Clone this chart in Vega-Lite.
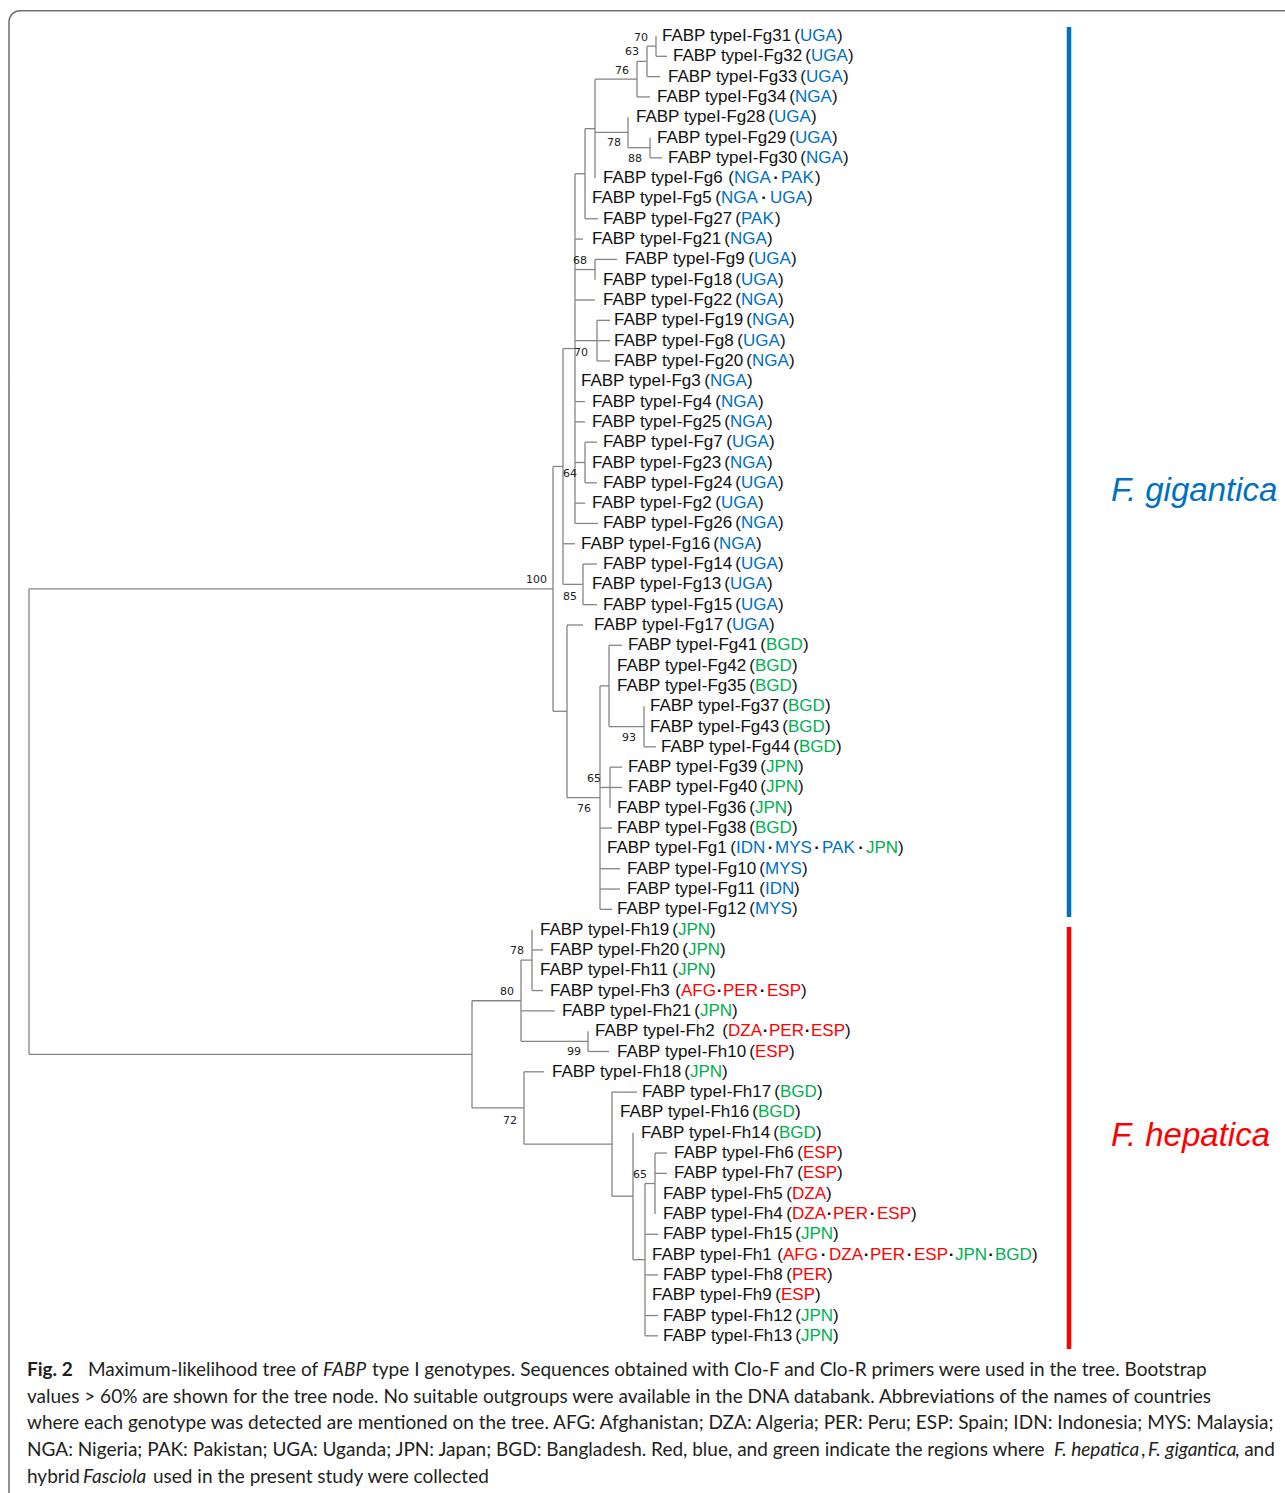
{
  "$schema": "https://vega.github.io/schema/vega-lite/v6.json",
  "width": 1285,
  "height": 1493,
  "autosize": {"type": "fit", "contains": "padding"},
  "padding": 0,
  "background": "white",
  "config": {"view": {"stroke": null}},
  "datasets": {
    "frame": [{"x": -20, "x2": 1300, "y": -1.246, "y2": 72.6}],
    "edges": [
      {"x":0,"x2":0,"y":27.22,"y2":50.14},{"x":0,"x2":524,"y":27.22,"y2":27.22},{"x":0,"x2":443,"y":50.14,"y2":50.14},
      {"x":524,"x2":524,"y":21.195,"y2":33.25},{"x":524,"x2":534,"y":21.195,"y2":21.195},{"x":524,"x2":538,"y":33.25,"y2":33.25},
      {"x":534,"x2":534,"y":15.39,"y2":27},{"x":534,"x2":546,"y":15.39,"y2":15.39},{"x":534,"x2":546,"y":25,"y2":25},{"x":534,"x2":554,"y":27,"y2":27},
      {"x":546,"x2":546,"y":6.78,"y2":24},{"x":546,"x2":556,"y":6.78,"y2":6.78},{"x":546,"x2":554,"y":10,"y2":10},{"x":546,"x2":566,"y":11.5,"y2":11.5},{"x":546,"x2":566,"y":13,"y2":13},{"x":546,"x2":568,"y":15,"y2":15},{"x":546,"x2":556,"y":18,"y2":18},{"x":546,"x2":556,"y":19,"y2":19},{"x":546,"x2":556,"y":21,"y2":21},{"x":546,"x2":556,"y":23,"y2":23},{"x":546,"x2":569,"y":24,"y2":24},
      {"x":556,"x2":556,"y":4.5625,"y2":9},{"x":556,"x2":566,"y":4.5625,"y2":4.5625},{"x":556,"x2":569,"y":9,"y2":9},
      {"x":566,"x2":566,"y":2.125,"y2":7},{"x":566,"x2":608,"y":2.125,"y2":2.125},{"x":566,"x2":599,"y":4.75,"y2":4.75},
      {"x":608,"x2":608,"y":1.25,"y2":3},{"x":608,"x2":618,"y":1.25,"y2":1.25},{"x":608,"x2":621,"y":3,"y2":3},
      {"x":618,"x2":618,"y":0.5,"y2":2},{"x":618,"x2":627,"y":0.5,"y2":0.5},{"x":618,"x2":631,"y":2,"y2":2},
      {"x":627,"x2":627,"y":0,"y2":1},{"x":627,"x2":638,"y":1,"y2":1},
      {"x":599,"x2":599,"y":4,"y2":5.5},{"x":599,"x2":621,"y":5.5,"y2":5.5},
      {"x":621,"x2":621,"y":5,"y2":6},{"x":621,"x2":633,"y":6,"y2":6},
      {"x":566,"x2":566,"y":11,"y2":12},{"x":566,"x2":588,"y":11,"y2":11},
      {"x":568,"x2":568,"y":14,"y2":16},{"x":568,"x2":581,"y":14,"y2":14},{"x":568,"x2":581,"y":15,"y2":15},{"x":568,"x2":581,"y":16,"y2":16},
      {"x":556,"x2":556,"y":20,"y2":22},{"x":556,"x2":568,"y":20,"y2":20},{"x":556,"x2":568,"y":22,"y2":22},
      {"x":554,"x2":554,"y":26,"y2":28},{"x":554,"x2":568,"y":26,"y2":26},{"x":554,"x2":568,"y":28,"y2":28},
      {"x":538,"x2":538,"y":29,"y2":37.5},{"x":538,"x2":554,"y":29,"y2":29},{"x":538,"x2":571,"y":37.5,"y2":37.5},
      {"x":571,"x2":571,"y":32,"y2":43},{"x":571,"x2":580,"y":32,"y2":32},{"x":571,"x2":581,"y":37,"y2":37},{"x":571,"x2":583,"y":39,"y2":39},{"x":571,"x2":591,"y":41,"y2":41},{"x":571,"x2":591,"y":42,"y2":42},{"x":571,"x2":583,"y":43,"y2":43},
      {"x":580,"x2":580,"y":30,"y2":34},{"x":580,"x2":593,"y":30,"y2":30},{"x":580,"x2":615,"y":34,"y2":34},
      {"x":615,"x2":615,"y":33,"y2":35},{"x":615,"x2":627,"y":35,"y2":35},
      {"x":581,"x2":581,"y":36,"y2":38},{"x":581,"x2":593,"y":36,"y2":36},{"x":581,"x2":593,"y":37,"y2":37},
      {"x":443,"x2":443,"y":47.5,"y2":52.78},{"x":443,"x2":492,"y":47.5,"y2":47.5},{"x":443,"x2":495,"y":52.78,"y2":52.78},
      {"x":492,"x2":492,"y":45.5,"y2":49.5},{"x":492,"x2":503,"y":45.5,"y2":45.5},{"x":492,"x2":526,"y":48,"y2":48},{"x":492,"x2":559,"y":49.5,"y2":49.5},
      {"x":503,"x2":503,"y":44,"y2":47},{"x":503,"x2":514,"y":45,"y2":45},{"x":503,"x2":514,"y":47,"y2":47},
      {"x":559,"x2":559,"y":49,"y2":50},{"x":559,"x2":580,"y":50,"y2":50},
      {"x":495,"x2":495,"y":51,"y2":54.5625},{"x":495,"x2":515,"y":51,"y2":51},{"x":495,"x2":583,"y":54.5625,"y2":54.5625},
      {"x":583,"x2":583,"y":52,"y2":57.125},{"x":583,"x2":608,"y":52,"y2":52},{"x":583,"x2":604,"y":57.125,"y2":57.125},
      {"x":604,"x2":604,"y":54,"y2":60.25},{"x":604,"x2":616,"y":60.25,"y2":60.25},
      {"x":616,"x2":616,"y":56.5,"y2":64},{"x":616,"x2":626,"y":56.5,"y2":56.5},{"x":616,"x2":629,"y":59,"y2":59},{"x":616,"x2":629,"y":61,"y2":61},{"x":616,"x2":629,"y":63,"y2":63},{"x":616,"x2":629,"y":64,"y2":64},
      {"x":626,"x2":626,"y":55,"y2":58},{"x":626,"x2":638,"y":55,"y2":55},{"x":626,"x2":638,"y":56,"y2":56}
    ],
    "segs": [
      {"r":0,"x":633,"t":"FABP typeI-Fg31","k":"k"},{"r":0,"x":771,"t":"UGA","k":"b","o":1},{"r":0,"x":808,"t":")","k":"k"},
      {"r":1,"x":644,"t":"FABP typeI-Fg32","k":"k"},{"r":1,"x":782,"t":"UGA","k":"b","o":1},{"r":1,"x":819,"t":")","k":"k"},
      {"r":2,"x":639,"t":"FABP typeI-Fg33","k":"k"},{"r":2,"x":777,"t":"UGA","k":"b","o":1},{"r":2,"x":814,"t":")","k":"k"},
      {"r":3,"x":628,"t":"FABP typeI-Fg34","k":"k"},{"r":3,"x":766,"t":"NGA","k":"b","o":1},{"r":3,"x":803,"t":")","k":"k"},
      {"r":4,"x":607,"t":"FABP typeI-Fg28","k":"k"},{"r":4,"x":745,"t":"UGA","k":"b","o":1},{"r":4,"x":782,"t":")","k":"k"},
      {"r":5,"x":628,"t":"FABP typeI-Fg29","k":"k"},{"r":5,"x":766,"t":"UGA","k":"b","o":1},{"r":5,"x":803,"t":")","k":"k"},
      {"r":6,"x":639,"t":"FABP typeI-Fg30","k":"k"},{"r":6,"x":777,"t":"NGA","k":"b","o":1},{"r":6,"x":814,"t":")","k":"k"},
      {"r":7,"x":574,"t":"FABP typeI-Fg6","k":"k"},{"r":7,"x":705,"t":"NGA","k":"b","o":1},{"r":7,"x":752,"t":"PAK","k":"b"},{"r":7,"x":786,"t":")","k":"k"},
      {"r":8,"x":563,"t":"FABP typeI-Fg5","k":"k"},{"r":8,"x":692,"t":"NGA","k":"b","o":1},{"r":8,"x":741,"t":"UGA","k":"b"},{"r":8,"x":778,"t":")","k":"k"},
      {"r":9,"x":574,"t":"FABP typeI-Fg27","k":"k"},{"r":9,"x":712,"t":"PAK","k":"b","o":1},{"r":9,"x":746,"t":")","k":"k"},
      {"r":10,"x":563,"t":"FABP typeI-Fg21","k":"k"},{"r":10,"x":701,"t":"NGA","k":"b","o":1},{"r":10,"x":738,"t":")","k":"k"},
      {"r":11,"x":596,"t":"FABP typeI-Fg9","k":"k"},{"r":11,"x":725,"t":"UGA","k":"b","o":1},{"r":11,"x":762,"t":")","k":"k"},
      {"r":12,"x":574,"t":"FABP typeI-Fg18","k":"k"},{"r":12,"x":712,"t":"UGA","k":"b","o":1},{"r":12,"x":749,"t":")","k":"k"},
      {"r":13,"x":574,"t":"FABP typeI-Fg22","k":"k"},{"r":13,"x":712,"t":"NGA","k":"b","o":1},{"r":13,"x":749,"t":")","k":"k"},
      {"r":14,"x":585,"t":"FABP typeI-Fg19","k":"k"},{"r":14,"x":723,"t":"NGA","k":"b","o":1},{"r":14,"x":760,"t":")","k":"k"},
      {"r":15,"x":585,"t":"FABP typeI-Fg8","k":"k"},{"r":15,"x":714,"t":"UGA","k":"b","o":1},{"r":15,"x":751,"t":")","k":"k"},
      {"r":16,"x":585,"t":"FABP typeI-Fg20","k":"k"},{"r":16,"x":723,"t":"NGA","k":"b","o":1},{"r":16,"x":760,"t":")","k":"k"},
      {"r":17,"x":552,"t":"FABP typeI-Fg3","k":"k"},{"r":17,"x":681,"t":"NGA","k":"b","o":1},{"r":17,"x":718,"t":")","k":"k"},
      {"r":18,"x":563,"t":"FABP typeI-Fg4","k":"k"},{"r":18,"x":692,"t":"NGA","k":"b","o":1},{"r":18,"x":729,"t":")","k":"k"},
      {"r":19,"x":563,"t":"FABP typeI-Fg25","k":"k"},{"r":19,"x":701,"t":"NGA","k":"b","o":1},{"r":19,"x":738,"t":")","k":"k"},
      {"r":20,"x":574,"t":"FABP typeI-Fg7","k":"k"},{"r":20,"x":703,"t":"UGA","k":"b","o":1},{"r":20,"x":740,"t":")","k":"k"},
      {"r":21,"x":563,"t":"FABP typeI-Fg23","k":"k"},{"r":21,"x":701,"t":"NGA","k":"b","o":1},{"r":21,"x":738,"t":")","k":"k"},
      {"r":22,"x":574,"t":"FABP typeI-Fg24","k":"k"},{"r":22,"x":712,"t":"UGA","k":"b","o":1},{"r":22,"x":749,"t":")","k":"k"},
      {"r":23,"x":563,"t":"FABP typeI-Fg2","k":"k"},{"r":23,"x":692,"t":"UGA","k":"b","o":1},{"r":23,"x":729,"t":")","k":"k"},
      {"r":24,"x":574,"t":"FABP typeI-Fg26","k":"k"},{"r":24,"x":712,"t":"NGA","k":"b","o":1},{"r":24,"x":749,"t":")","k":"k"},
      {"r":25,"x":552,"t":"FABP typeI-Fg16","k":"k"},{"r":25,"x":690,"t":"NGA","k":"b","o":1},{"r":25,"x":727,"t":")","k":"k"},
      {"r":26,"x":574,"t":"FABP typeI-Fg14","k":"k"},{"r":26,"x":712,"t":"UGA","k":"b","o":1},{"r":26,"x":749,"t":")","k":"k"},
      {"r":27,"x":563,"t":"FABP typeI-Fg13","k":"k"},{"r":27,"x":701,"t":"UGA","k":"b","o":1},{"r":27,"x":738,"t":")","k":"k"},
      {"r":28,"x":574,"t":"FABP typeI-Fg15","k":"k"},{"r":28,"x":712,"t":"UGA","k":"b","o":1},{"r":28,"x":749,"t":")","k":"k"},
      {"r":29,"x":565,"t":"FABP typeI-Fg17","k":"k"},{"r":29,"x":703,"t":"UGA","k":"b","o":1},{"r":29,"x":740,"t":")","k":"k"},
      {"r":30,"x":599,"t":"FABP typeI-Fg41","k":"k"},{"r":30,"x":737,"t":"BGD","k":"g","o":1},{"r":30,"x":774,"t":")","k":"k"},
      {"r":31,"x":588,"t":"FABP typeI-Fg42","k":"k"},{"r":31,"x":726,"t":"BGD","k":"g","o":1},{"r":31,"x":763,"t":")","k":"k"},
      {"r":32,"x":588,"t":"FABP typeI-Fg35","k":"k"},{"r":32,"x":726,"t":"BGD","k":"g","o":1},{"r":32,"x":763,"t":")","k":"k"},
      {"r":33,"x":621,"t":"FABP typeI-Fg37","k":"k"},{"r":33,"x":759,"t":"BGD","k":"g","o":1},{"r":33,"x":796,"t":")","k":"k"},
      {"r":34,"x":621,"t":"FABP typeI-Fg43","k":"k"},{"r":34,"x":759,"t":"BGD","k":"g","o":1},{"r":34,"x":796,"t":")","k":"k"},
      {"r":35,"x":632,"t":"FABP typeI-Fg44","k":"k"},{"r":35,"x":770,"t":"BGD","k":"g","o":1},{"r":35,"x":807,"t":")","k":"k"},
      {"r":36,"x":599,"t":"FABP typeI-Fg39","k":"k"},{"r":36,"x":737,"t":"JPN","k":"g","o":1},{"r":36,"x":769,"t":")","k":"k"},
      {"r":37,"x":599,"t":"FABP typeI-Fg40","k":"k"},{"r":37,"x":737,"t":"JPN","k":"g","o":1},{"r":37,"x":769,"t":")","k":"k"},
      {"r":38,"x":588,"t":"FABP typeI-Fg36","k":"k"},{"r":38,"x":726,"t":"JPN","k":"g","o":1},{"r":38,"x":758,"t":")","k":"k"},
      {"r":39,"x":588,"t":"FABP typeI-Fg38","k":"k"},{"r":39,"x":726,"t":"BGD","k":"g","o":1},{"r":39,"x":763,"t":")","k":"k"},
      {"r":40,"x":578,"t":"FABP typeI-Fg1","k":"k"},{"r":40,"x":707,"t":"IDN","k":"b","o":1},{"r":40,"x":746,"t":"MYS","k":"b"},{"r":40,"x":793,"t":"PAK","k":"b"},{"r":40,"x":837,"t":"JPN","k":"g"},{"r":40,"x":869,"t":")","k":"k"},
      {"r":41,"x":598,"t":"FABP typeI-Fg10","k":"k"},{"r":41,"x":736,"t":"MYS","k":"b","o":1},{"r":41,"x":773,"t":")","k":"k"},
      {"r":42,"x":598,"t":"FABP typeI-Fg11","k":"k"},{"r":42,"x":736,"t":"IDN","k":"b","o":1},{"r":42,"x":765,"t":")","k":"k"},
      {"r":43,"x":588,"t":"FABP typeI-Fg12","k":"k"},{"r":43,"x":726,"t":"MYS","k":"b","o":1},{"r":43,"x":763,"t":")","k":"k"},
      {"r":44,"x":511,"t":"FABP typeI-Fh19","k":"k"},{"r":44,"x":649,"t":"JPN","k":"g","o":1},{"r":44,"x":681,"t":")","k":"k"},
      {"r":45,"x":521,"t":"FABP typeI-Fh20","k":"k"},{"r":45,"x":659,"t":"JPN","k":"g","o":1},{"r":45,"x":691,"t":")","k":"k"},
      {"r":46,"x":511,"t":"FABP typeI-Fh11","k":"k"},{"r":46,"x":649,"t":"JPN","k":"g","o":1},{"r":46,"x":681,"t":")","k":"k"},
      {"r":47,"x":521,"t":"FABP typeI-Fh3","k":"k"},{"r":47,"x":652,"t":"AFG","k":"r","o":1},{"r":47,"x":694,"t":"PER","k":"r"},{"r":47,"x":738,"t":"ESP","k":"r"},{"r":47,"x":772,"t":")","k":"k"},
      {"r":48,"x":533,"t":"FABP typeI-Fh21","k":"k"},{"r":48,"x":671,"t":"JPN","k":"g","o":1},{"r":48,"x":703,"t":")","k":"k"},
      {"r":49,"x":566,"t":"FABP typeI-Fh2","k":"k"},{"r":49,"x":699,"t":"DZA","k":"r","o":1},{"r":49,"x":740,"t":"PER","k":"r"},{"r":49,"x":782,"t":"ESP","k":"r"},{"r":49,"x":816,"t":")","k":"k"},
      {"r":50,"x":588,"t":"FABP typeI-Fh10","k":"k"},{"r":50,"x":726,"t":"ESP","k":"r","o":1},{"r":50,"x":760,"t":")","k":"k"},
      {"r":51,"x":523,"t":"FABP typeI-Fh18","k":"k"},{"r":51,"x":661,"t":"JPN","k":"g","o":1},{"r":51,"x":693,"t":")","k":"k"},
      {"r":52,"x":613,"t":"FABP typeI-Fh17","k":"k"},{"r":52,"x":751,"t":"BGD","k":"g","o":1},{"r":52,"x":788,"t":")","k":"k"},
      {"r":53,"x":591,"t":"FABP typeI-Fh16","k":"k"},{"r":53,"x":729,"t":"BGD","k":"g","o":1},{"r":53,"x":766,"t":")","k":"k"},
      {"r":54,"x":612,"t":"FABP typeI-Fh14","k":"k"},{"r":54,"x":750,"t":"BGD","k":"g","o":1},{"r":54,"x":787,"t":")","k":"k"},
      {"r":55,"x":645,"t":"FABP typeI-Fh6","k":"k"},{"r":55,"x":774,"t":"ESP","k":"r","o":1},{"r":55,"x":808,"t":")","k":"k"},
      {"r":56,"x":645,"t":"FABP typeI-Fh7","k":"k"},{"r":56,"x":774,"t":"ESP","k":"r","o":1},{"r":56,"x":808,"t":")","k":"k"},
      {"r":57,"x":634,"t":"FABP typeI-Fh5","k":"k"},{"r":57,"x":763,"t":"DZA","k":"r","o":1},{"r":57,"x":797,"t":")","k":"k"},
      {"r":58,"x":634,"t":"FABP typeI-Fh4","k":"k"},{"r":58,"x":763,"t":"DZA","k":"r","o":1},{"r":58,"x":804,"t":"PER","k":"r"},{"r":58,"x":848,"t":"ESP","k":"r"},{"r":58,"x":882,"t":")","k":"k"},
      {"r":59,"x":634,"t":"FABP typeI-Fh15","k":"k"},{"r":59,"x":772,"t":"JPN","k":"g","o":1},{"r":59,"x":804,"t":")","k":"k"},
      {"r":60,"x":623,"t":"FABP typeI-Fh1","k":"k"},{"r":60,"x":754,"t":"AFG","k":"r","o":1},{"r":60,"x":800,"t":"DZA","k":"r"},{"r":60,"x":841,"t":"PER","k":"r"},{"r":60,"x":885,"t":"ESP","k":"r"},{"r":60,"x":926,"t":"JPN","k":"g"},{"r":60,"x":966,"t":"BGD","k":"g"},{"r":60,"x":1003,"t":")","k":"k"},
      {"r":61,"x":634,"t":"FABP typeI-Fh8","k":"k"},{"r":61,"x":763,"t":"PER","k":"r","o":1},{"r":61,"x":798,"t":")","k":"k"},
      {"r":62,"x":623,"t":"FABP typeI-Fh9","k":"k"},{"r":62,"x":752,"t":"ESP","k":"r","o":1},{"r":62,"x":786,"t":")","k":"k"},
      {"r":63,"x":634,"t":"FABP typeI-Fh12","k":"k"},{"r":63,"x":772,"t":"JPN","k":"g","o":1},{"r":63,"x":804,"t":")","k":"k"},
      {"r":64,"x":634,"t":"FABP typeI-Fh13","k":"k"},{"r":64,"x":772,"t":"JPN","k":"g","o":1},{"r":64,"x":804,"t":")","k":"k"}
    ],
    "dots": [
      {"r":7,"x":747},{"r":8,"x":735},{"r":40,"x":741.5},{"r":40,"x":788},{"r":40,"x":832},
      {"r":47,"x":690.5},{"r":47,"x":733.5},{"r":49,"x":736.5},{"r":49,"x":778.5},
      {"r":58,"x":800.5},{"r":58,"x":843.5},
      {"r":60,"x":794.5},{"r":60,"x":837.5},{"r":60,"x":880.5},{"r":60,"x":922.5},{"r":60,"x":962}
    ],
    "boot": [
      {"x":605,"r":0.08,"t":"70"},{"x":596,"r":0.8,"t":"63"},{"x":586,"r":1.71,"t":"76"},{"x":578,"r":5.28,"t":"78"},{"x":599,"r":6.07,"t":"88"},
      {"x":544,"r":11.06,"t":"68"},{"x":545,"r":15.59,"t":"70"},{"x":534,"r":21.57,"t":"64"},{"x":497,"r":26.78,"t":"100"},{"x":534,"r":27.61,"t":"85"},
      {"x":593,"r":34.58,"t":"93"},{"x":558,"r":36.6,"t":"65"},{"x":548,"r":38.08,"t":"76"},{"x":481,"r":45.05,"t":"78"},{"x":471,"r":47.09,"t":"80"},
      {"x":538,"r":50.04,"t":"99"},{"x":474,"r":53.41,"t":"72"},{"x":604,"r":56.08,"t":"65"}
    ],
    "clades": [
      {"x":1040,"y":-0.443,"y2":43.38,"k":"b"},
      {"x":1040,"y":43.87,"y2":64.65,"k":"r"}
    ],
    "species": [
      {"x":1082,"r":22.4,"t":"F. gigantica","k":"b"},
      {"x":1082,"r":54.16,"t":"F. hepatica","k":"r"}
    ],
    "caption": [
      {"r":65.98,"x":-2,"t":"Fig. 2","s":"b"},
      {"r":65.98,"x":59,"t":"Maximum-likelihood tree of","s":"n"},
      {"r":65.98,"x":294,"t":"FABP","s":"i"},
      {"r":65.98,"x":343,"t":"type I genotypes. Sequences obtained with Clo-F and Clo-R primers were used in the tree. Bootstrap","s":"n"},
      {"r":67.29,"x":-2,"t":"values > 60% are shown for the tree node. No suitable outgroups were available in the DNA databank. Abbreviations of the names of countries","s":"n"},
      {"r":68.59,"x":-2,"t":"where each genotype was detected are mentioned on the tree. AFG: Afghanistan; DZA: Algeria; PER: Peru; ESP: Spain; IDN: Indonesia; MYS: Malaysia;","s":"n"},
      {"r":69.91,"x":-2,"t":"NGA: Nigeria; PAK: Pakistan; UGA: Uganda; JPN: Japan; BGD: Bangladesh. Red, blue, and green indicate the regions where","s":"n"},
      {"r":69.91,"x":1025,"t":"F. hepatica","s":"i"},
      {"r":69.91,"x":1112,"t":",","s":"n"},
      {"r":69.91,"x":1119,"t":"F. gigantica","s":"i"},
      {"r":69.91,"x":1206,"t":", and","s":"n"},
      {"r":71.23,"x":-2,"t":"hybrid","s":"n"},
      {"r":71.23,"x":54,"t":"Fasciola","s":"i"},
      {"r":71.23,"x":124,"t":"used in the present study were collected","s":"n"}
    ]
  },
  "layer": [
    {
      "data": {"name": "frame"},
      "mark": {"type": "rect", "fill": "transparent", "stroke": "#6e6e6e", "strokeWidth": 1.5, "cornerRadius": 11, "clip": true},
      "encoding": {
        "x": {"field": "x", "type": "quantitative", "axis": null, "scale": {"domain": [-29, 1256], "nice": false, "zero": false}},
        "x2": {"field": "x2"},
        "y": {"field": "y", "type": "quantitative", "axis": null, "scale": {"domain": [-1.7725, 71.738], "reverse": true, "nice": false, "zero": false}},
        "y2": {"field": "y2"}
      }
    },
    {
      "data": {"name": "edges"},
      "mark": {"type": "rule", "color": "#858585", "strokeWidth": 1.3},
      "encoding": {
        "x": {"field": "x", "type": "quantitative"},
        "x2": {"field": "x2"},
        "y": {"field": "y", "type": "quantitative"},
        "y2": {"field": "y2"}
      }
    },
    {
      "data": {"name": "clades"},
      "mark": {"type": "rule", "strokeWidth": 4.5},
      "encoding": {
        "x": {"field": "x", "type": "quantitative"},
        "y": {"field": "y", "type": "quantitative"},
        "y2": {"field": "y2"},
        "color": {"field": "k", "type": "nominal", "legend": null, "scale": {"domain": ["k", "b", "g", "r"], "range": ["#111111", "#0070C0", "#00B050", "#FF0000"]}}
      }
    },
    {
      "data": {"name": "segs"},
      "mark": {"type": "text", "font": "Liberation Sans", "fontSize": 17, "align": "left", "baseline": "middle"},
      "encoding": {
        "x": {"field": "x", "type": "quantitative"},
        "y": {"field": "r", "type": "quantitative"},
        "text": {"field": "t", "type": "nominal"},
        "color": {"field": "k", "type": "nominal", "legend": null}
      }
    },
    {
      "data": {"name": "segs"},
      "transform": [{"filter": "datum.o === 1"}],
      "mark": {"type": "text", "text": "(", "font": "Liberation Sans", "fontSize": 17, "align": "right", "baseline": "middle", "color": "#111111"},
      "encoding": {
        "x": {"field": "x", "type": "quantitative"},
        "y": {"field": "r", "type": "quantitative"}
      }
    },
    {
      "data": {"name": "dots"},
      "mark": {"type": "text", "text": "·", "font": "Liberation Sans", "fontSize": 17, "fontWeight": "bold", "align": "center", "baseline": "middle", "color": "#111111"},
      "encoding": {
        "x": {"field": "x", "type": "quantitative"},
        "y": {"field": "r", "type": "quantitative"}
      }
    },
    {
      "data": {"name": "boot"},
      "mark": {"type": "text", "font": "DejaVu Sans", "fontSize": 11, "align": "left", "baseline": "middle", "color": "#222222"},
      "encoding": {
        "x": {"field": "x", "type": "quantitative"},
        "y": {"field": "r", "type": "quantitative"},
        "text": {"field": "t", "type": "nominal"}
      }
    },
    {
      "data": {"name": "species"},
      "mark": {"type": "text", "font": "Liberation Sans", "fontSize": 33, "fontStyle": "italic", "align": "left", "baseline": "middle"},
      "encoding": {
        "x": {"field": "x", "type": "quantitative"},
        "y": {"field": "r", "type": "quantitative"},
        "text": {"field": "t", "type": "nominal"},
        "color": {"field": "k", "type": "nominal", "legend": null}
      }
    },
    {
      "data": {"name": "caption"},
      "transform": [{"filter": "datum.s === 'n'"}],
      "mark": {"type": "text", "font": "Lato", "fontSize": 19, "align": "left", "baseline": "alphabetic", "color": "#231f20"},
      "encoding": {
        "x": {"field": "x", "type": "quantitative"},
        "y": {"field": "r", "type": "quantitative"},
        "text": {"field": "t", "type": "nominal"}
      }
    },
    {
      "data": {"name": "caption"},
      "transform": [{"filter": "datum.s === 'i'"}],
      "mark": {"type": "text", "font": "Lato", "fontSize": 19, "fontStyle": "italic", "align": "left", "baseline": "alphabetic", "color": "#231f20"},
      "encoding": {
        "x": {"field": "x", "type": "quantitative"},
        "y": {"field": "r", "type": "quantitative"},
        "text": {"field": "t", "type": "nominal"}
      }
    },
    {
      "data": {"name": "caption"},
      "transform": [{"filter": "datum.s === 'b'"}],
      "mark": {"type": "text", "font": "Lato", "fontSize": 19, "fontWeight": "bold", "align": "left", "baseline": "alphabetic", "color": "#231f20"},
      "encoding": {
        "x": {"field": "x", "type": "quantitative"},
        "y": {"field": "r", "type": "quantitative"},
        "text": {"field": "t", "type": "nominal"}
      }
    }
  ]
}
